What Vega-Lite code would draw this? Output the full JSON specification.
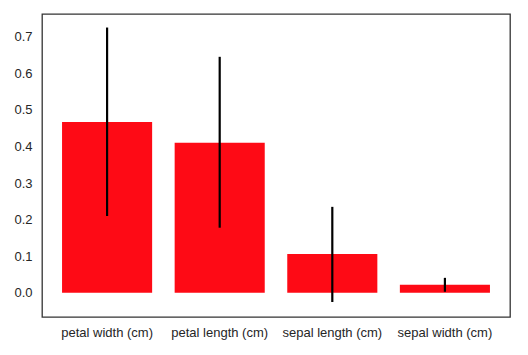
{
  "$schema": "https://vega.github.io/schema/vega-lite/v6.json",
  "width": 468,
  "height": 303,
  "autosize": "none",
  "padding": {"left": 42, "top": 14, "right": 18, "bottom": 38},
  "background": "white",
  "config": {
    "font": "Liberation Sans",
    "view": {"stroke": "#333333", "strokeWidth": 1.3},
    "axis": {"grid": false, "domain": false, "ticks": false, "labelFont": "Liberation Sans", "labelFontSize": 13, "labelColor": "#262626", "title": null}
  },
  "data": {
    "values": [
      {"feature": "petal width (cm)", "importance": 0.467, "lo": 0.210, "hi": 0.725},
      {"feature": "petal length (cm)", "importance": 0.410, "lo": 0.178, "hi": 0.645},
      {"feature": "sepal length (cm)", "importance": 0.106, "lo": -0.025, "hi": 0.235},
      {"feature": "sepal width (cm)", "importance": 0.022, "lo": 0.003, "hi": 0.041}
    ]
  },
  "encoding": {
    "x": {
      "field": "feature",
      "type": "nominal",
      "sort": null,
      "scale": {"paddingInner": 0.2, "paddingOuter": 0.178},
      "axis": {"labelAngle": 0, "labelPadding": 9}
    }
  },
  "layer": [
    {
      "mark": {"type": "bar", "color": "#fe0a15"},
      "encoding": {
        "y": {
          "field": "importance",
          "type": "quantitative",
          "scale": {"domain": [-0.066, 0.762], "nice": false, "zero": false},
          "axis": {"values": [0, 0.1, 0.2, 0.3, 0.4, 0.5, 0.6, 0.7], "format": ".1f", "labelPadding": 10}
        }
      }
    },
    {
      "mark": {"type": "rule", "color": "#000000", "strokeWidth": 2.2},
      "encoding": {
        "y": {"field": "lo", "type": "quantitative"},
        "y2": {"field": "hi"}
      }
    }
  ]
}
